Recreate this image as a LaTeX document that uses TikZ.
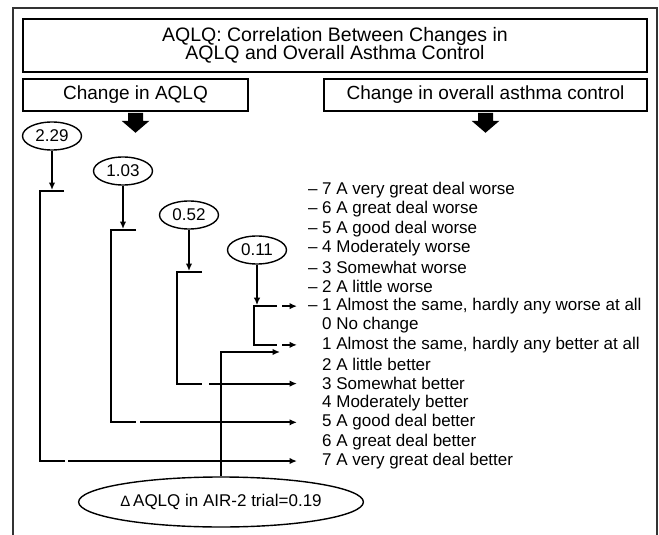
\documentclass[tikz,border=0pt]{standalone}
\usepackage{fontspec}
\setmainfont{Liberation Sans}
\usetikzlibrary{arrows.meta,shapes.geometric}

\begin{document}
\begin{tikzpicture}[
    x=1pt, y=-1pt,
    headbox/.style={draw, line width=1.5pt, inner sep=0pt, font=\fontsize{19}{18.5}\selectfont},
    valnode/.style={draw, ellipse, line width=1.4pt, inner sep=0pt, minimum width=59pt, minimum height=28pt, font=\fontsize{17}{19}\selectfont},
    rownode/.style={anchor=west, inner sep=0pt, font=\fontsize{17}{19}\selectfont},
    bracket/.style={line width=2.2pt},
    link/.style={line width=2pt, -{Latex[length=7.5pt,width=6.5pt]}}
]
\useasboundingbox (0,0) rectangle (659,535);

% Outer frame, open at the bottom
\draw[line width=1.1pt, black!80] (13,535) -- (13,8) -- (657,8) -- (657,535);

% Headings
\node[headbox, minimum width=624pt, minimum height=53pt, align=center, font=\fontsize{19.5}{18.5}\selectfont] (title) at (335,45.5) {AQLQ: Correlation Between Changes in\\AQLQ and Overall Asthma Control};
\node[headbox, minimum width=225pt, minimum height=32pt] (lhead) at (135.5,95) {Change in AQLQ};
\node[headbox, minimum width=323pt, minimum height=32pt] (rhead) at (485.5,95) {Change in overall asthma control};

% Block arrows under the headings
\foreach \b in {lhead,rhead}
    \fill (\b.south) ++(-7.5,1) -- ++(0,8) -- ++(-6.5,0) -- ++(14,12) -- ++(14,-12) -- ++(-6.5,0) -- ++(0,-8) -- cycle;

% Answer scale, -7 to 7
\foreach \i/\t in {1/{\llap{\textendash\ }7 A very great deal worse},
                   2/{\llap{\textendash\ }6 A great deal worse},
                   3/{\llap{\textendash\ }5 A good deal worse},
                   4/{\llap{\textendash\ }4 Moderately worse},
                   5/{\llap{\textendash\ }3 Somewhat worse},
                   6/{\llap{\textendash\ }2 A little worse},
                   7/{\llap{\textendash\ }1 Almost the same, hardly any worse at all},
                   8/{0 No change},
                   9/{1 Almost the same, hardly any better at all},
                   10/{2 A little better},
                   11/{3 Somewhat better},
                   12/{4 Moderately better},
                   13/{5 A good deal better},
                   14/{6 A great deal better},
                   15/{7 A very great deal better}}
    \node[rownode] (row\i) at (322,{190+19.36*(\i-1)}) {\t};

% AQLQ changes
\node[valnode] (v229) at (52,136) {2.29};
\node[valnode] (v103) at (123,171) {1.03};
\node[valnode] (v052) at (189,215) {0.52};
\node[valnode] (v011) at (257,250) {0.11};
\node[valnode, minimum width=252pt, minimum height=50pt] (vair) at (221,502) {{\fontsize{15}{17}\selectfont Δ}\,AQLQ in AIR-2 trial=0.19};

\coordinate (tip) at (297,0);

% 2.29 -> 7
\coordinate (k229) at (40,191);
\coordinate (s229) at (68,191);
\draw[link, shorten >=1pt] (v229) -- (v229 |- k229);
\draw[bracket] (k229) ++(24,0) -- (k229) -- (k229 |- row15) -- ++(25,0);
\draw[link] (s229 |- row15) -- (tip |- row15);

% 1.03 -> 5
\coordinate (k103) at (111,230);
\coordinate (s103) at (140,230);
\draw[link, shorten >=1pt] (v103) -- (v103 |- k103);
\draw[bracket] (k103) ++(25,0) -- (k103) -- (k103 |- row13) -- ++(25,0);
\draw[link] (s103 |- row13) -- (tip |- row13);

% 0.52 -> 3
\coordinate (k052) at (177,272);
\coordinate (s052) at (209,272);
\draw[link, shorten >=1pt] (v052) -- (v052 |- k052);
\draw[bracket] (k052) ++(25,0) -- (k052) -- (k052 |- row11) -- ++(25,0);
\draw[link] (s052 |- row11) -- (tip |- row11);

% 0.11 -> -1 and 1
\coordinate (k011) at (254,0);
\coordinate (s011) at (282,0);
\draw[link, shorten >=1pt] (v011) -- (v011 |- row7);
\draw[bracket] (k011 |- row7) ++(23,0) -- (k011 |- row7) -- (k011 |- row9) -- ++(23,0);
\draw[link] (s011 |- row7) -- (tip |- row7);
\draw[link] (s011 |- row9) -- (tip |- row9);

% AIR-2 trial
\coordinate (air) at (280,352);
\draw[link] (vair.north) -- (vair.north |- air) -- (air);

\end{tikzpicture}
\end{document}
